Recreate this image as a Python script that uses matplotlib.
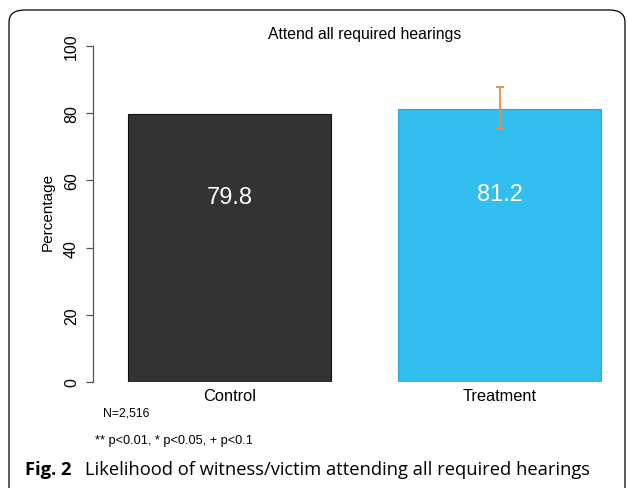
import matplotlib.pyplot as plt
from matplotlib.patches import FancyBboxPatch

groups = ['Control', 'Treatment']
pct = [79.8, 81.2]
bar_colors = ['#333333', '#33bef0']
edge_colors = ['#111111', '#2aa8dc']
err_low = [None, 75.3]
err_high = [None, 87.8]
yticks = [0, 20, 40, 60, 80, 100]

W, H = 627, 489
fig = plt.figure(figsize=(W / 100, H / 100), dpi=100)
plt.rcParams['font.family'] = ['Liberation Sans', 'DejaVu Sans']

# rounded frame around the figure (cut at bottom)
frame = FancyBboxPatch((9 / W, -20 / H), (616 / W), (H - 11 + 20) / H,
                       boxstyle='round,pad=0,rounding_size=0.025',
                       transform=fig.transFigure, fill=False,
                       edgecolor='black', linewidth=0.9)
fig.patches.append(frame)

ax = fig.add_axes([93 / W, (H - 383) / H, (620 - 93) / W, (383 - 47) / H])
x = [0, 1]
bars = ax.bar(x, pct, width=0.75, color=bar_colors, edgecolor=edge_colors,
              linewidth=0.8)
for xi, lo, hi in zip(x, err_low, err_high):
    if lo is None:
        continue
    ax.errorbar([xi], [(lo + hi) / 2], yerr=[[(hi - lo) / 2], [(hi - lo) / 2]],
                fmt='none', ecolor='#f0893c', elinewidth=1.3, capsize=3,
                capthick=1.3)
for xi, v in zip(x, pct):
    ax.text(xi, v * 0.69, f'{v:.1f}', color='white', ha='center',
            va='center', fontsize=17)

ax.set_xlim(-0.5056, 1.446)
ax.set_ylim(0, 100)
for s in ['top', 'right', 'bottom']:
    ax.spines[s].set_visible(False)
ax.spines['left'].set_color('#555555')
ax.spines['left'].set_linewidth(0.9)
ax.set_xticks(x)
ax.set_xticklabels(groups, fontsize=11.8)
ax.tick_params(axis='x', length=0, pad=4.5)
ax.set_yticks(yticks)
ax.set_yticklabels([str(t) for t in yticks], rotation=90, va='center',
                   fontsize=11.5)
ax.tick_params(axis='y', length=5, width=0.9, color='#555555', pad=5)

fig.text(48 / W, 1 - 212 / H, 'Percentage', rotation=90, ha='center',
         va='center', fontsize=11)
fig.text(365 / W, 1 - 35 / H, 'Attend all required hearings', ha='center',
         va='center', fontsize=11.3)
fig.text(103 / W, 1 - 413 / H, 'N=2,516', ha='left', va='center', fontsize=8.8)
fig.text(95 / W, 1 - 441 / H, '** p<0.01, * p<0.05, + p<0.1', ha='left',
         va='center', fontsize=9.2)
fig.text(25 / W, 1 - 470 / H, 'Fig. 2', ha='left', va='center', fontsize=13.2,
         fontweight='bold', family='Open Sans')
fig.text(85 / W, 1 - 470 / H,
         'Likelihood of witness/victim attending all required hearings',
         ha='left', va='center', fontsize=13.2, family='Open Sans')

fig.savefig('out.png', dpi=100)
